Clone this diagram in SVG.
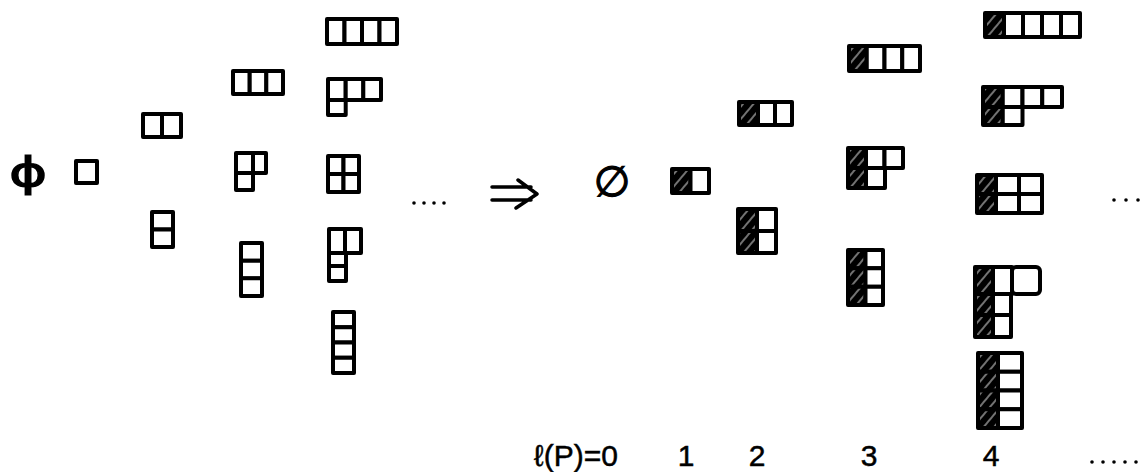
<svg xmlns="http://www.w3.org/2000/svg" width="1143" height="472" viewBox="0 0 1143 472">
<style>
.c{fill:#fff;stroke:#000;stroke-width:4;stroke-linejoin:round}
.s{fill:url(#hatch);stroke:#000;stroke-width:4;stroke-linejoin:round}
.t{font-family:"Liberation Sans",Arial,sans-serif;fill:#000;stroke:#000;stroke-width:0.5}
.sym{font-family:"DejaVu Sans",sans-serif;fill:#000;stroke:#000;stroke-width:1.2}
.d{fill:#000}
.ln{fill:none;stroke:#000;stroke-width:3.5;stroke-linecap:round;stroke-linejoin:round}
</style>
<defs>
<pattern id="hatch" width="8" height="8" patternUnits="userSpaceOnUse" patternTransform="rotate(-50)">
<rect width="8" height="8" fill="#000"/>
<line x1="0" y1="4" x2="8" y2="4" stroke="#fff" stroke-width="0.9"/>
</pattern>
</defs>
<rect width="1143" height="472" fill="#fff"/>

<!-- left side: partitions -->
<g id="L-empty"><text class="sym" transform="translate(28,186) scale(1.45,1)" x="0" y="0" font-size="40" text-anchor="middle" stroke-width="0">ϕ</text></g>
<g id="L-1"><rect class="c" x="76" y="161" width="21" height="22"/></g>
<g id="L-2"><rect class="c" x="143" y="114" width="19" height="23"/><rect class="c" x="162" y="114" width="19" height="23"/></g>
<g id="L-11"><rect class="c" x="152" y="212" width="21" height="17.5"/><rect class="c" x="152" y="229.5" width="21" height="17.5"/></g>
<g id="L-3"><rect class="c" x="233" y="71" width="16.7" height="23"/><rect class="c" x="249.7" y="71" width="16.7" height="23"/><rect class="c" x="266.3" y="71" width="16.7" height="23"/></g>
<g id="L-21"><rect class="c" x="236" y="153" width="17" height="20"/><rect class="c" x="253" y="153" width="13" height="20"/><rect class="c" x="236" y="173" width="17" height="17"/></g>
<g id="L-111"><rect class="c" x="241" y="243" width="21" height="17.7"/><rect class="c" x="241" y="260.7" width="21" height="17.7"/><rect class="c" x="241" y="278.3" width="21" height="17.7"/></g>
<g id="L-4"><rect class="c" x="327" y="19" width="17.5" height="25"/><rect class="c" x="344.5" y="19" width="17.5" height="25"/><rect class="c" x="362" y="19" width="17.5" height="25"/><rect class="c" x="379.5" y="19" width="17.5" height="25"/></g>
<g id="L-31"><rect class="c" x="328" y="79" width="17.7" height="21"/><rect class="c" x="345.7" y="79" width="17.7" height="21"/><rect class="c" x="363.3" y="79" width="17.7" height="21"/><rect class="c" x="328" y="100" width="17.7" height="15"/></g>
<g id="L-22"><rect class="c" x="328" y="156" width="15.5" height="18"/><rect class="c" x="343.5" y="156" width="15.5" height="18"/><rect class="c" x="328" y="174" width="15.5" height="18"/><rect class="c" x="343.5" y="174" width="15.5" height="18"/></g>
<g id="L-211"><rect class="c" x="329" y="229" width="16" height="24"/><rect class="c" x="345" y="229" width="16" height="24"/><rect class="c" x="329" y="253" width="17" height="13"/><rect class="c" x="329" y="266" width="17" height="15"/></g>
<g id="L-1111"><rect class="c" x="333" y="312" width="21" height="15.25"/><rect class="c" x="333" y="327.25" width="21" height="15.25"/><rect class="c" x="333" y="342.5" width="21" height="15.25"/><rect class="c" x="333" y="357.75" width="21" height="15.25"/></g>
<g id="L-dots"><circle class="d" cx="414" cy="203" r="1.8"/><circle class="d" cx="424" cy="203" r="1.8"/><circle class="d" cx="434" cy="203" r="1.8"/><circle class="d" cx="444" cy="203" r="1.8"/></g>

<!-- implication arrow -->
<g id="connectors"><path class="ln" d="M492,187 L531,187 M492,200 L531,200 M518,180 L537,194 L516,208"/></g>

<!-- right side: shaded transforms -->
<g id="R-empty"><text class="sym" x="612" y="196" font-size="42" text-anchor="middle" stroke-width="1.6">∅</text></g>
<g id="R-1"><rect class="s" x="672" y="169" width="18.5" height="24"/><rect class="c" x="690.5" y="169" width="18.5" height="24"/></g>
<g id="R-2"><rect class="s" x="739" y="102" width="19" height="23"/><rect class="c" x="758" y="102" width="17" height="23"/><rect class="c" x="775" y="102" width="17" height="23"/></g>
<g id="R-11"><rect class="s" x="738" y="209" width="19" height="22"/><rect class="s" x="738" y="231" width="19" height="22"/><rect class="c" x="757" y="209" width="19" height="22"/><rect class="c" x="757" y="231" width="19" height="22"/></g>
<g id="R-3"><rect class="s" x="849" y="46" width="17.75" height="25"/><rect class="c" x="866.75" y="46" width="17.75" height="25"/><rect class="c" x="884.5" y="46" width="17.75" height="25"/><rect class="c" x="902.25" y="46" width="17.75" height="25"/></g>
<g id="R-21"><rect class="s" x="848" y="148" width="18" height="20"/><rect class="c" x="866" y="148" width="18.5" height="20"/><rect class="c" x="884.5" y="148" width="18.5" height="20"/><rect class="s" x="848" y="168" width="18" height="20"/><rect class="c" x="866" y="168" width="19" height="20"/></g>
<g id="R-111"><rect class="s" x="848" y="250" width="17.5" height="18.3"/><rect class="c" x="865.5" y="250" width="17.5" height="18.3"/><rect class="s" x="848" y="268.3" width="17.5" height="18.4"/><rect class="c" x="865.5" y="268.3" width="17.5" height="18.4"/><rect class="s" x="848" y="286.7" width="17.5" height="18.3"/><rect class="c" x="865.5" y="286.7" width="17.5" height="18.3"/></g>
<g id="R-4"><rect class="s" x="985" y="13" width="19" height="24"/><rect class="c" x="1004" y="13" width="19" height="24"/><rect class="c" x="1023" y="13" width="19" height="24"/><rect class="c" x="1042" y="13" width="19" height="24"/><rect class="c" x="1061" y="13" width="19" height="24"/></g>
<g id="R-31"><rect class="s" x="983" y="87" width="19.75" height="20"/><rect class="c" x="1002.75" y="87" width="19.75" height="20"/><rect class="c" x="1022.5" y="87" width="19.75" height="20"/><rect class="c" x="1042.25" y="87" width="19.75" height="20"/><rect class="s" x="983" y="107" width="19.75" height="18"/><rect class="c" x="1002.75" y="107" width="19.75" height="18"/></g>
<g id="R-22"><rect class="s" x="977" y="175" width="19" height="19"/><rect class="c" x="996" y="175" width="23" height="19"/><rect class="c" x="1019" y="175" width="23" height="19"/><rect class="s" x="977" y="194" width="19" height="19"/><rect class="c" x="996" y="194" width="23" height="19"/><rect class="c" x="1019" y="194" width="23" height="19"/></g>
<g id="R-211"><rect class="s" x="975" y="267" width="18" height="27"/><rect class="c" x="993" y="267" width="19" height="27"/><rect class="c" x="1012" y="267" width="28" height="27" rx="4"/><rect class="s" x="975" y="294" width="18" height="21"/><rect class="c" x="993" y="294" width="18" height="21"/><rect class="s" x="975" y="315" width="18" height="22"/><rect class="c" x="993" y="315" width="18" height="22"/></g>
<g id="R-1111"><rect class="s" x="978" y="353" width="20" height="18.75"/><rect class="c" x="998" y="353" width="24" height="18.75"/><rect class="s" x="978" y="371.75" width="20" height="18.75"/><rect class="c" x="998" y="371.75" width="24" height="18.75"/><rect class="s" x="978" y="390.5" width="20" height="18.75"/><rect class="c" x="998" y="390.5" width="24" height="18.75"/><rect class="s" x="978" y="409.25" width="20" height="18.75"/><rect class="c" x="998" y="409.25" width="24" height="18.75"/></g>
<g id="R-dots"><circle class="d" cx="1114" cy="200" r="1.8"/><circle class="d" cx="1126" cy="200" r="1.8"/><circle class="d" cx="1138" cy="200" r="1.8"/></g>

<!-- bottom labels -->
<g id="labels" class="t" font-size="30">
<text x="534" y="466">ℓ(P)=0</text>
<text x="686" y="466" text-anchor="middle">1</text>
<text x="757" y="466" text-anchor="middle">2</text>
<text x="869" y="466" text-anchor="middle">3</text>
<text x="991" y="466" text-anchor="middle">4</text>
</g>
<g id="B-dots"><circle class="d" cx="1092" cy="462" r="1.8"/><circle class="d" cx="1103" cy="462" r="1.8"/><circle class="d" cx="1114" cy="462" r="1.8"/><circle class="d" cx="1125" cy="462" r="1.8"/><circle class="d" cx="1136" cy="462" r="1.8"/></g>
</svg>
